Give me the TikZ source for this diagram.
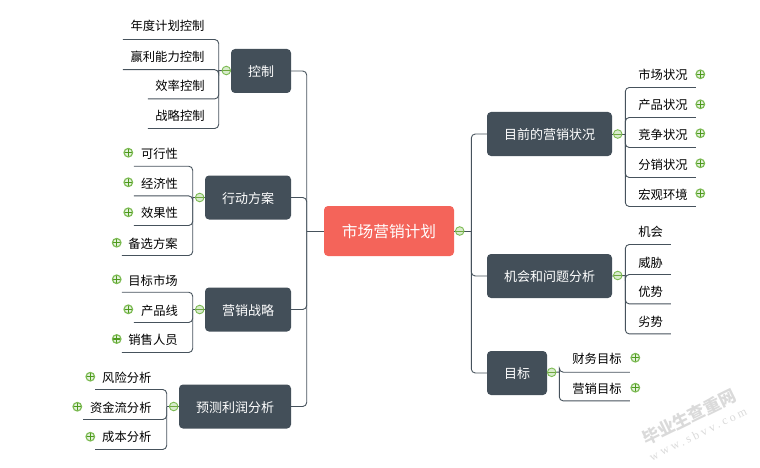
\documentclass[tikz,border=0pt]{standalone}
\usepackage{fontspec}
\setmainfont{Noto Sans CJK SC}
\newfontfamily\wmfont[LetterSpace=25]{Liberation Serif}
\definecolor{boxc}{HTML}{434F59}
\definecolor{linec}{HTML}{46525C}
\definecolor{rootc}{HTML}{F4645A}
\definecolor{ringc}{HTML}{7DBB54}
\definecolor{minusc}{HTML}{6FA83F}
\definecolor{plusc}{HTML}{4E9A1E}
\definecolor{wmc}{HTML}{DADADA}
\tikzset{
  conn/.style={draw=linec,line width=0.9pt,rounded corners=4pt},
  mainbox/.style={fill=boxc,rounded corners=4pt,text=white,inner sep=0pt,minimum height=44pt,text height=12pt,text depth=1pt,font=\fontsize{13}{15}\selectfont},
  rootbox/.style={fill=rootc,rounded corners=4pt,text=white,inner sep=0pt,minimum width=130pt,minimum height=50pt,text height=14pt,text depth=1pt,font=\fontsize{15.7}{18}\selectfont},
  leafnode/.style={inner sep=0pt,text=black,text height=11pt,text depth=1pt,font=\fontsize{12.3}{14}\selectfont},
  minusicon/.style={circle,draw=ringc,line width=0.9pt,fill=white!70!ringc,minimum size=8.6pt,inner sep=0pt,
    path picture={\draw[minusc,line width=0.9pt] (path picture bounding box.west) -- (path picture bounding box.east);}},
  plusicon/.style={circle,draw=ringc,line width=1.2pt,fill=white!80!ringc,minimum size=8.6pt,inner sep=0pt,
    path picture={\draw[plusc,line width=1.1pt] (path picture bounding box.west) -- (path picture bounding box.east)
      (path picture bounding box.north) -- (path picture bounding box.south);}},
  watermark/.style={inner sep=0pt,text=wmc,rotate=26}
}
\newcommand{\leaf}[7]{%
  \pgfmathsetmacro{\lw}{#3-#2}%
  \pgfmathsetmacro{\lh}{2*(#4-#6)}%
  \pgfmathsetmacro{\lx}{(#2+#3)/2}%
  \pgfmathsetmacro{\ldx}{2*(#5-\lx)}%
  \node[leafnode,minimum width=\lw pt,minimum height=\lh pt] (#1) at (\lx,#6) {\hspace*{\ldx pt}#7};%
}
\begin{document}
\begin{tikzpicture}[x=1pt,y=-1pt]
\useasboundingbox (0,0) rectangle (760,468);
% centre and main topics
\node[rootbox] (root) at (389,231) {市场营销计划};
\node[mainbox,minimum width=60pt] (kz) at (261,71) {控制};
\node[mainbox,minimum width=86pt] (xd) at (248,197.5) {行动方案};
\node[mainbox,minimum width=86pt] (yx) at (248,309.5) {营销战略};
\node[mainbox,minimum width=112pt] (yc) at (235,406.5) {预测利润分析};
\node[mainbox,minimum width=125pt] (mq) at (549.5,134) {目前的营销状况};
\node[mainbox,minimum width=125pt] (jh) at (549.5,276) {机会和问题分析};
\node[mainbox,minimum width=60pt] (mb) at (517,373) {目标};
% hubs
\coordinate (hubL) at (306.7,231);
\coordinate (hubR) at (471.3,231);
\coordinate (hkz) at (218.7,70.5);
\coordinate (hxd) at (192.7,197.5);
\coordinate (hyx) at (192.7,309.5);
\coordinate (hyc) at (166.7,406.5);
\coordinate (hmq) at (625.3,134);
\coordinate (hjh) at (625.3,275.5);
\coordinate (hmb) at (559.3,372);
% leaves
\leaf{a1}{123}{218.7}{39.3}{167.5}{26}{年度计划控制}
\leaf{a2}{123}{218.7}{69.5}{167.5}{57}{赢利能力控制}
\leaf{a3}{148}{218.7}{98.7}{180}{86}{效率控制}
\leaf{a4}{148}{218.7}{128.3}{180}{116}{战略控制}
\leaf{b1}{134}{192.7}{166}{159.5}{153}{可行性}
\leaf{b2}{134}{192.7}{195.7}{159.5}{183}{经济性}
\leaf{b3}{134}{192.7}{225.3}{159.5}{212}{效果性}
\leaf{b4}{122}{192.7}{255.3}{153}{243}{备选方案}
\leaf{c1}{122}{192.7}{292}{153}{280}{目标市场}
\leaf{c2}{134}{192.7}{322.3}{159.5}{310}{产品线}
\leaf{c3}{122}{192.7}{352.3}{153}{339}{销售人员}
\leaf{d1}{95.3}{166.7}{389.3}{126.8}{377}{风险分析}
\leaf{d2}{83.3}{166.7}{419.3}{120.8}{407}{资金流分析}
\leaf{d3}{95.3}{166.7}{449.3}{126.8}{436.7}{成本分析}
\leaf{e1}{625.3}{695.7}{87.3}{663}{75}{市场状况}
\leaf{e2}{625.3}{695.7}{117.3}{663}{105}{产品状况}
\leaf{e3}{625.3}{695.7}{147.3}{663}{134.3}{竞争状况}
\leaf{e4}{625.3}{695.7}{177.3}{663}{164}{分销状况}
\leaf{e5}{625.3}{695.7}{206.3}{663}{194}{宏观环境}
\leaf{f1}{625.3}{670.7}{244.3}{650.7}{231}{机会}
\leaf{f2}{625.3}{670.7}{274.3}{650.7}{262.3}{威胁}
\leaf{f3}{625.3}{670.7}{303.7}{650.7}{291}{优势}
\leaf{f4}{625.3}{670.7}{333.7}{650.7}{321}{劣势}
\leaf{g1}{559.3}{629.7}{372}{597}{358}{财务目标}
\leaf{g2}{559.3}{629.7}{400.7}{597}{388.3}{营销目标}
% connectors: centre to main topics
\draw[conn] (root.west) -- (hubL);
\draw[conn] (root.east) -- (hubR);
\foreach \t in {kz,xd,yx,yc} \draw[conn] (hubL) |- (\t.east);
\foreach \t in {mq,jh,mb} \draw[conn] (hubR) |- (\t.west);
% connectors: main topics to leaves
\draw[conn] (kz.west) -- (hkz);
\draw[conn] (xd.west) -- (hxd);
\draw[conn] (yx.west) -- (hyx);
\draw[conn] (yc.west) -- (hyc);
\draw[conn] (mq.east) -- (hmq);
\draw[conn] (jh.east) -- (hjh);
\draw[conn] (mb.east) -- (hmb);
\foreach \t in {a1,a2,a3,a4} \draw[conn] (hkz) |- (\t.south west);
\foreach \t in {b1,b2,b3,b4} \draw[conn] (hxd) |- (\t.south west);
\foreach \t in {c1,c2,c3} \draw[conn] (hyx) |- (\t.south west);
\foreach \t in {d1,d2,d3} \draw[conn] (hyc) |- (\t.south west);
\foreach \t in {e1,e2,e3,e4,e5} \draw[conn] (hmq) |- (\t.south east);
\foreach \t in {f1,f2,f3,f4} \draw[conn] (hjh) |- (\t.south east);
\foreach \t in {g1,g2} \draw[conn] (hmb) |- (\t.south east);
% collapse icons
\node[minusicon] (m0) at (459.7,231) {};
\node[minusicon] (m1) at (226.3,70.5) {};
\node[minusicon] (m2) at (199.7,197.5) {};
\node[minusicon] (m3) at (199.7,309.5) {};
\node[minusicon] (m4) at (173.7,406.5) {};
\node[minusicon] (m5) at (617.7,134) {};
\node[minusicon] (m6) at (617.7,275.5) {};
\node[minusicon] (m7) at (551.7,372.3) {};
% expand icons
\node[plusicon] (p1) at (128.3,152.7) {};
\node[plusicon] (p2) at (128.3,182.3) {};
\node[plusicon] (p3) at (128.3,212.3) {};
\node[plusicon] (p4) at (116.7,242.7) {};
\node[plusicon] (p5) at (116.7,279.3) {};
\node[plusicon] (p6) at (128.3,309.3) {};
\node[plusicon] (p7) at (116.7,339) {};
\node[plusicon] (p8) at (90.3,376.7) {};
\node[plusicon] (p9) at (77.3,406.7) {};
\node[plusicon] (p10) at (90.3,436.7) {};
\node[plusicon] (p11) at (700.3,74.3) {};
\node[plusicon] (p12) at (700.3,104.3) {};
\node[plusicon] (p13) at (700.3,133.3) {};
\node[plusicon] (p14) at (700.3,163.3) {};
\node[plusicon] (p15) at (700.3,193.3) {};
\node[plusicon] (p16) at (635.3,357.7) {};
\node[plusicon] (p17) at (635.3,387.7) {};
% watermark
\node[watermark,font=\fontsize{17}{19}\selectfont\bfseries] (wm1) at (689,417) {毕业生查重网};
\node[watermark,font=\fontsize{12}{14}\wmfont\selectfont] (wm2) at (698,434) {www.sbvv.com};
\end{tikzpicture}
\end{document}
